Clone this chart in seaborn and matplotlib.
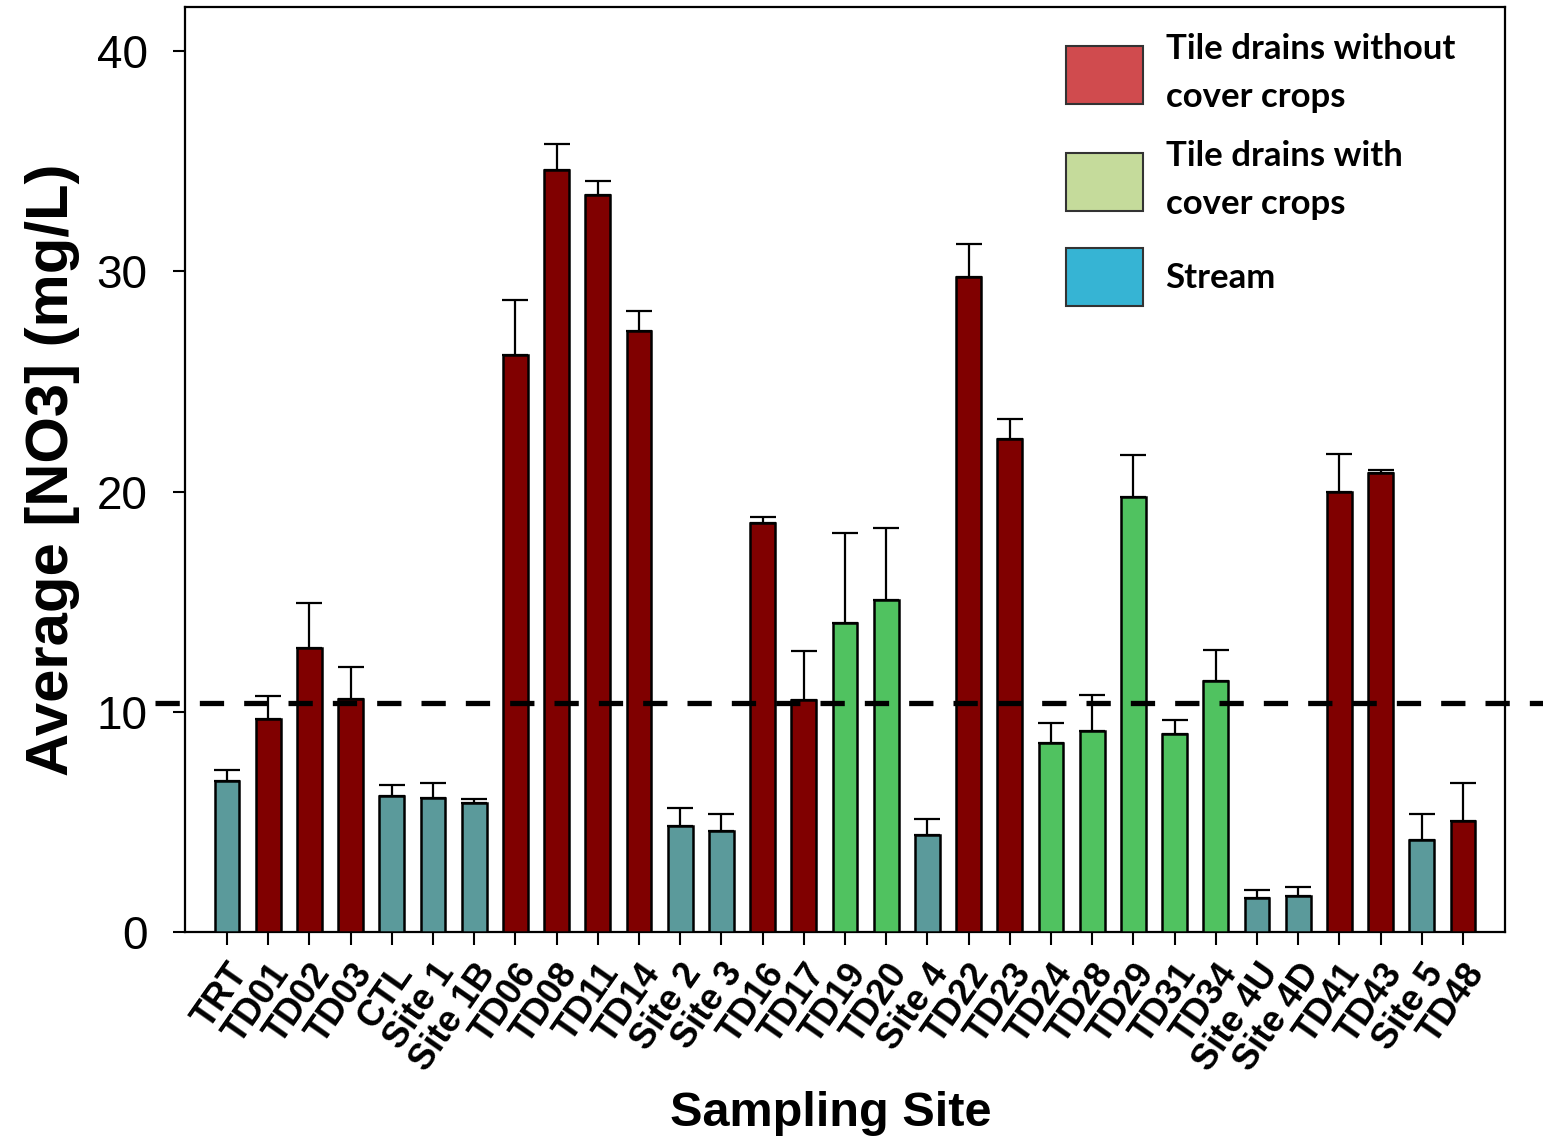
import matplotlib
matplotlib.use("Agg")
import matplotlib.pyplot as plt
import seaborn as sns
import pandas as pd
import numpy as np
from matplotlib.patches import Patch

sites = ["TRT", "TD01", "TD02", "TD03", "CTL", "Site 1", "Site 1B", "TD06", "TD08",
         "TD11", "TD14", "Site 2", "Site 3", "TD16", "TD17", "TD19", "TD20", "Site 4",
         "TD22", "TD23", "TD24", "TD28", "TD29", "TD31", "TD34", "Site 4U", "Site 4D",
         "TD41", "TD43", "Site 5", "TD48"]
groups = ["S", "R", "R", "R", "S", "S", "S", "R", "R",
          "R", "R", "S", "S", "R", "R", "G", "G", "S",
          "R", "R", "G", "G", "G", "G", "G", "S", "S",
          "R", "R", "S", "R"]
means = [6.85, 9.67, 12.88, 10.56, 6.16, 6.10, 5.84, 26.2, 34.6,
         33.45, 27.3, 4.81, 4.58, 18.57, 10.53, 14.03, 15.07, 4.40,
         29.73, 22.38, 8.56, 9.11, 19.75, 8.97, 11.41, 1.56, 1.63,
         20.0, 20.83, 4.16, 5.02]
errors = [0.49, 1.03, 2.04, 1.45, 0.50, 0.68, 0.18, 2.5, 1.2,
          0.65, 0.9, 0.82, 0.78, 0.27, 2.23, 4.07, 3.27, 0.73,
          1.5, 0.91, 0.93, 1.63, 1.9, 0.64, 1.4, 0.33, 0.43,
          1.7, 0.14, 1.18, 1.73]
threshold = 10.4
yticks = [0, 10, 20, 30, 40]

bar_colors = {"R": "#800000", "G": "#50C260", "S": "#5B9A9B"}
legend_labels = ["Tile drains without\ncover crops", "Tile drains with\ncover crops", "Stream"]
legend_colors = ["#D04B4E", "#C5DB9B", "#36B4D4"]

df = pd.DataFrame({"site": sites, "group": groups, "mean": means, "err": errors})

sns.set_style("white")
plt.rcParams["font.family"] = ["Liberation Sans", "DejaVu Sans"]
plt.rcParams["text.color"] = "black"
plt.rcParams["axes.labelcolor"] = "black"
plt.rcParams["xtick.color"] = "black"
plt.rcParams["ytick.color"] = "black"

fig = plt.figure(figsize=(15.43, 11.39), dpi=100)
ax = fig.add_axes([185 / 1543, 1 - 932 / 1139, 1320 / 1543, 925 / 1139])

sns.barplot(data=df, x="site", y="mean", hue="group", order=sites, palette=bar_colors,
            dodge=False, width=0.6, saturation=1, edgecolor="black", linewidth=1.8,
            legend=False, ax=ax, zorder=3)

xpos = np.arange(len(sites))
ax.errorbar(xpos, df["mean"], yerr=[np.zeros(len(sites)), df["err"]], fmt="none",
            ecolor="black", elinewidth=1.6, capsize=9.5, capthick=1.6, zorder=2)

ax.plot([-0.023, 1.03], [threshold, threshold], color="black", lw=3.8,
        linestyle=(0, (4.6, 3.8)), transform=ax.get_yaxis_transform(), clip_on=False,
        zorder=5)

ax.set_xlim(-1.02, 31.02)
ax.set_ylim(0, 42)
ax.set_yticks(yticks)
ax.set_yticklabels([str(t) for t in yticks], fontsize=33)
ax.set_xticks(xpos)
ax.set_xticklabels(sites, rotation=55, ha="right", rotation_mode="anchor",
                   fontsize=26, fontweight="bold")
ax.tick_params(axis="both", direction="out", length=9, width=1.5, color="black",
               bottom=True, left=True)
ax.tick_params(axis="x", pad=9)
ax.tick_params(axis="y", pad=18)
for s in ax.spines.values():
    s.set_visible(True)
    s.set_color("black")
    s.set_linewidth(1.6)

ax.set_xlabel("Sampling Site", fontsize=35, fontweight="bold", labelpad=12)
ax.xaxis.set_label_coords(0.489, -0.172)
ax.set_ylabel("Average [NO3] (mg/L)", fontsize=43, fontweight="bold", labelpad=12)

handles = [Patch(facecolor=c, edgecolor="#333333", linewidth=1.5) for c in legend_colors]
leg = ax.legend(handles, legend_labels, loc="upper left",
                bbox_to_anchor=(1066 / 1543, 1 - 33 / 1139), bbox_transform=fig.transFigure,
                frameon=False, borderpad=0, borderaxespad=0, handlelength=2.22,
                handleheight=2.2, handletextpad=0.65, labelspacing=0.8,
                prop={"family": ["Lato", "DejaVu Sans"], "weight": "bold", "size": 25})
for t in leg.get_texts():
    t.set_linespacing(1.6)

fig.savefig("out.png", dpi=100)
